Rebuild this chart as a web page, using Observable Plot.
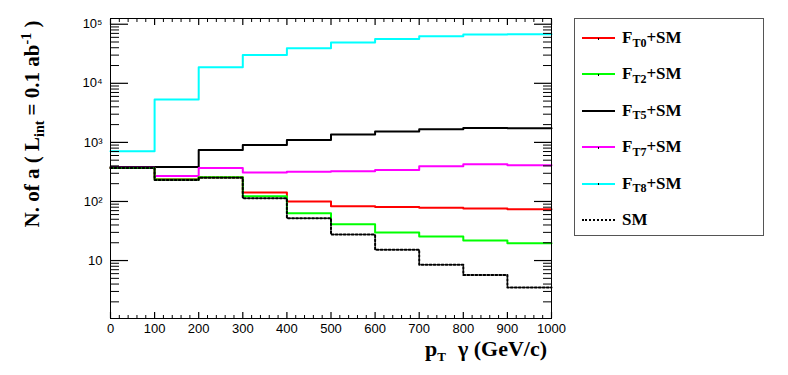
<!DOCTYPE html>
<html>
<head>
<meta charset="utf-8">
<script src="https://cdn.jsdelivr.net/npm/d3@7"></script>
<script src="https://cdn.jsdelivr.net/npm/@observablehq/plot@0.6"></script>
<style>
  body { margin: 0; background: #fff; }
  #wrap { position: relative; width: 788px; height: 375px; }
  .legend { position: absolute; left: 574px; top: 18px; width: 188px; height: 216px;
    border: 1px solid #555; background: #fff; box-sizing: content-box;
    font-family: "Liberation Serif", "Times New Roman", serif; font-weight: bold; font-size: 17px; }
  .row { position: absolute; left: 0; height: 36px; width: 188px; }
  .sample { position: absolute; left: 7px; top: 17px; width: 33px; height: 0; border-top: 2px solid; }
  .dot { position: absolute; left: 16px; top: -1.5px; width: 1px; height: 2px; background: #000; }
  .lab { position: absolute; left: 47px; top: 0; line-height: 36px; white-space: nowrap; }
  .lab .sub { font-size: 12px; position: relative; top: 3.5px; }
</style>
</head>
<body>
<div id="wrap"></div>
<script>
// ---- data ----
const binEdges = [0, 100, 200, 300, 400, 500, 600, 700, 800, 900, 1000];
const FT0 = [370, 238, 258, 142, 100, 83, 81, 78, 76, 74];
const FT2 = [370, 235, 256, 122, 63, 41, 29.8, 25.5, 21.8, 19.6];
const FT5 = [385, 385, 740, 907, 1100, 1355, 1523, 1667, 1758, 1735];
const FT7 = [372, 270, 370, 308, 317, 324, 342, 394, 427, 410];
const FT8 = [706, 5300, 18700, 30200, 39100, 48900, 56400, 62400, 66700, 67500];
const SM  = [368, 232, 252, 113, 52, 27.5, 15.3, 8.5, 5.7, 3.5];

const seriesNames = ["FT0", "FT2", "FT5", "FT7", "FT8", "SM"];
const seriesLabels = [["F", "T0", "+SM"], ["F", "T2", "+SM"], ["F", "T5", "+SM"], ["F", "T7", "+SM"], ["F", "T8", "+SM"], ["SM", "", ""]];
const seriesColors = ["#ff0000", "#00ff00", "#000000", "#ff00ff", "#00ffff", "#000000"];
const seriesValues = [FT0, FT2, FT5, FT7, FT8, SM];
const drawOrder = ["FT8", "FT5", "FT7", "FT0", "FT2", "SM"];

const xMajor = [0, 100, 200, 300, 400, 500, 600, 700, 800, 900, 1000];
const xTickLabels = ["0", "100", "200", "300", "400", "500", "600", "700", "800", "900", "1000"];
const yMajor = [10, 100, 1000, 10000, 100000];
const yTickLabels = ["10", "10\u00b2", "10\u00b3", "10\u2074", "10\u2075"];

// minor ticks
const xMinor = d3.range(0, 1001, 20).filter(v => v % 100 !== 0);
const yMinor = [];
for (let k = 0; k <= 4; k++) for (let m = 2; m <= 9; m++) yMinor.push(m * Math.pow(10, k));

const yLabelMap = new Map(yMajor.map((v, i) => [v, yTickLabels[i]]));
const xLabelMap = new Map(xMajor.map((v, i) => [v, xTickLabels[i]]));

function stepData(vals) {
  return binEdges.map((e, i) => ({x: e, y: vals[Math.min(i, vals.length - 1)]}));
}

const lineMarks = drawOrder.map(name => {
  const i = seriesNames.indexOf(name);
  return Plot.line(stepData(seriesValues[i]), {
    x: "x", y: "y", curve: "step-after",
    stroke: seriesColors[i], strokeWidth: 2,
    strokeDasharray: name === "SM" ? "2,2" : null
  });
});

const W = 788, H = 375, mL = 110, mR = 237, mT = 18, mB = 57;
const PW = W - mL - mR, PH = H - mT - mB;

const chart = Plot.plot({
  width: W, height: H,
  marginLeft: mL, marginRight: mR, marginTop: mT, marginBottom: mB,
  style: {fontFamily: "'Liberation Sans', Arial, sans-serif", fontSize: "13px"},
  x: {domain: [0, 1000], axis: null},
  y: {type: "log", domain: [1.045, 1.25e5], axis: null},
  marks: [
    ...lineMarks,
    // left ticks
    Plot.tickY(yMinor, {y: d => d, stroke: "black", strokeWidth: 1, insetRight: PW - 9}),
    Plot.tickY(yMajor, {y: d => d, stroke: "black", strokeWidth: 1.2, insetRight: PW - 18}),
    // right ticks
    Plot.axisY(yMinor, {anchor: "right", tickSize: -9, stroke: "black", text: null, label: null}),
    Plot.axisY(yMajor, {anchor: "right", tickSize: -18, stroke: "black", strokeWidth: 1.2, text: null, label: null}),
    // bottom ticks
    Plot.tickX(xMinor, {x: d => d, stroke: "black", strokeWidth: 1, insetTop: PH - 3}),
    Plot.tickX(xMajor, {x: d => d, stroke: "black", strokeWidth: 1.2, insetTop: PH - 6}),
    // top ticks
    Plot.axisX(xMinor, {anchor: "top", tickSize: -3, stroke: "black", text: null, label: null}),
    Plot.axisX(xMajor, {anchor: "top", tickSize: -6, stroke: "black", strokeWidth: 1.2, text: null, label: null}),
    // tick labels
    Plot.axisY(yMajor, {anchor: "left", tickSize: 0, tickPadding: 8, tickFormat: d => yLabelMap.get(d), fill: "black", label: null}),
    Plot.axisX(xMajor, {anchor: "bottom", tickSize: 0, tickPadding: 5, tickFormat: d => xLabelMap.get(d), fill: "black", label: null}),
    Plot.frame({stroke: "black"})
  ]
});

document.getElementById("wrap").appendChild(chart);

// axis titles with sub/superscripts
const svg = d3.select(chart);
const serif = "'Liberation Serif', 'Times New Roman', serif";
const yt = svg.append("text")
  .attr("transform", "translate(39,124) rotate(-90)")
  .attr("text-anchor", "middle")
  .attr("font-family", serif).attr("font-weight", "bold").attr("font-size", 21)
  .attr("fill", "#000");
yt.append("tspan").text("N. of a ( L");
yt.append("tspan").attr("font-size", 14).attr("dy", 5).text("int");
yt.append("tspan").attr("dy", -5).text(" = 0.1 ab");
yt.append("tspan").attr("font-size", 14).attr("dy", -8).text("-1");
yt.append("tspan").attr("dy", 8).text(" )");

const xt = svg.append("text")
  .attr("x", 547).attr("y", 356)
  .attr("text-anchor", "end")
  .attr("font-family", serif).attr("font-weight", "bold").attr("font-size", 22)
  .attr("fill", "#000");
xt.append("tspan").text("p");
xt.append("tspan").attr("font-size", 13).attr("dy", 5).text("T");
xt.append("tspan").attr("dy", -5).attr("dx", 12).text("\u03b3 (GeV/c)");

// legend
const legend = document.createElement("div");
legend.className = "legend";
seriesNames.forEach((name, i) => {
  const row = document.createElement("div");
  row.className = "row";
  row.style.top = (1 + i * 36.4) + "px";
  const sample = document.createElement("div");
  sample.className = "sample";
  if (name === "SM") {
    sample.style.borderTop = "2px dotted #000";
  } else {
    sample.style.borderTopColor = seriesColors[i];
    const dot = document.createElement("div");
    dot.className = "dot";
    sample.appendChild(dot);
  }
  row.appendChild(sample);
  const lab = document.createElement("div");
  lab.className = "lab";
  const [a, b, c] = seriesLabels[i];
  lab.appendChild(document.createTextNode(a));
  if (b) {
    const s = document.createElement("span");
    s.className = "sub";
    s.textContent = b;
    lab.appendChild(s);
  }
  if (c) lab.appendChild(document.createTextNode(c));
  row.appendChild(lab);
  legend.appendChild(row);
});
document.getElementById("wrap").appendChild(legend);
</script>
</body>
</html>
